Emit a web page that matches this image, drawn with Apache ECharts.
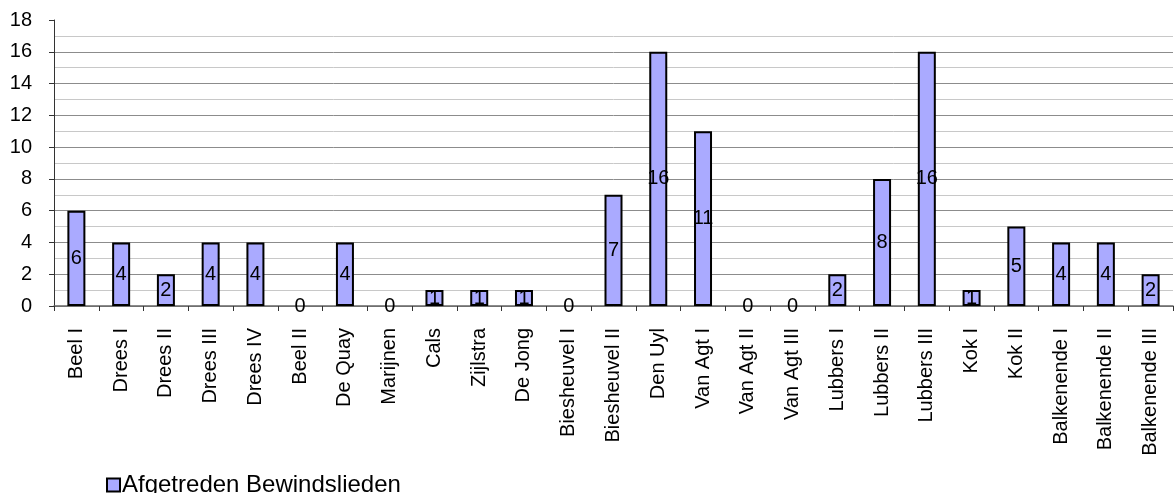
<!DOCTYPE html>
<html>
<head>
<meta charset="utf-8">
<script src="https://cdn.jsdelivr.net/npm/echarts@6/dist/echarts.min.js"></script>
<style>
  html, body { margin: 0; padding: 0; background: #fff; }
  #chart { width: 1174px; height: 493px; }
</style>
</head>
<body>
<div id="chart"></div>
<script>
// kabinetten
const cabinets = [
  "Beel I", "Drees I", "Drees II", "Drees III", "Drees IV", "Beel II", "De Quay",
  "Marijnen", "Cals", "Zijlstra", "De Jong", "Biesheuvel I", "Biesheuvel II",
  "Den Uyl", "Van Agt I", "Van Agt II", "Van Agt III", "Lubbers I", "Lubbers II",
  "Lubbers III", "Kok I", "Kok II", "Balkenende I", "Balkenende II", "Balkenende III"
];
const resigned = [6, 4, 2, 4, 4, 0, 4, 0, 1, 1, 1, 0, 7, 16, 11, 0, 0, 2, 8, 16, 1, 5, 4, 4, 2];
const seriesName = "Afgetreden Bewindslieden";
const yTicks = [0, 2, 4, 6, 8, 10, 12, 14, 16, 18];

const font = "Liberation Sans, Arial, sans-serif";
const chart = echarts.init(document.getElementById("chart"));

// major gridlines grey, geen lijn op 18
const majorColors = yTicks.map(v => v === 18 ? "rgba(0,0,0,0)" : "#8c8c8c");

// lege balken zonder rand, alleen het label
const barData = resigned.map(v => v === 0 ? { value: v, itemStyle: { borderWidth: 0 } } : v);

chart.setOption({
  animation: false,
  grid: { left: 54, right: 1, top: 20, bottom: 187, containLabel: false },
  legend: {
    data: [seriesName],
    left: 101,
    top: 468,
    icon: "rect",
    itemWidth: 13,
    itemHeight: 13,
    itemGap: 4,
    textStyle: { fontFamily: font, fontSize: 24, color: "#000", padding: [0, 0, 0, -3] },
    itemStyle: { borderColor: "#000", borderWidth: 2 }
  },
  xAxis: {
    type: "category",
    data: cabinets,
    boundaryGap: true,
    axisLine: { lineStyle: { color: "#666", width: 1.5 } },
    axisTick: { show: true, inside: false, length: 5, alignWithLabel: false, lineStyle: { color: "#333" } },
    axisLabel: {
      rotate: 90,
      interval: 0,
      margin: 22,
      fontFamily: font,
      fontSize: 20,
      color: "#000"
    },
    splitLine: { show: false }
  },
  yAxis: {
    type: "value",
    min: 0,
    max: 18,
    interval: 2,
    axisLine: { show: true, lineStyle: { color: "#333", width: 1 } },
    axisTick: { show: true, length: 5, lineStyle: { color: "#333" } },
    axisLabel: { margin: 22, fontFamily: font, fontSize: 20, color: "#000" },
    splitLine: { show: true, lineStyle: { color: majorColors, width: 1 } },
    minorTick: { show: false, splitNumber: 2 },
    minorSplitLine: { show: true, lineStyle: { color: "#c8c8c8", width: 1 } }
  },
  series: [{
    name: seriesName,
    type: "bar",
    data: barData,
    barWidth: 18,
    itemStyle: { color: "#aaaaff", borderColor: "#000", borderWidth: 2 },
    label: {
      show: true,
      position: "inside",
      fontFamily: font,
      fontSize: 20,
      color: "#000"
    }
  }]
});
</script>
</body>
</html>
